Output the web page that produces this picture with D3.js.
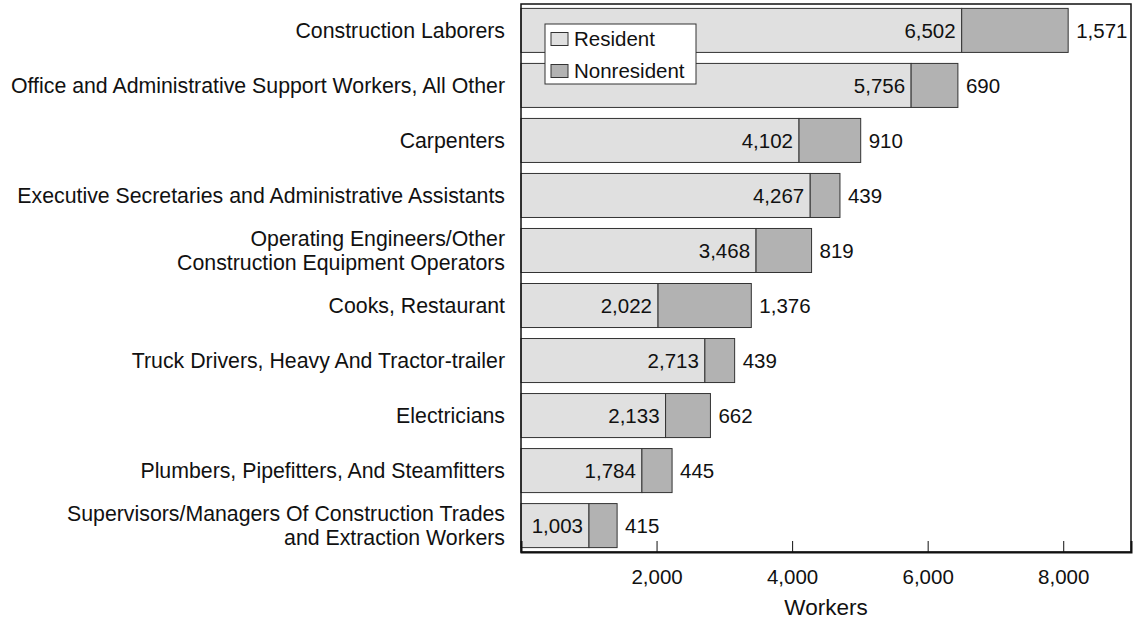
<!DOCTYPE html>
<html>
<head>
<meta charset="utf-8">
<script src="https://cdn.jsdelivr.net/npm/d3@7"></script>
<style>
  body { margin: 0; background: #fff; }
  svg { font-family: "Liberation Sans", Arial, sans-serif; }
</style>
</head>
<body>
<div id="chart"></div>
<script>
'use strict'

var occupations = [
  'Construction Laborers',
  'Office and Administrative Support Workers, All Other',
  'Carpenters',
  'Executive Secretaries and Administrative Assistants',
  'Operating Engineers/Other\nConstruction Equipment Operators',
  'Cooks, Restaurant',
  'Truck Drivers, Heavy And Tractor-trailer',
  'Electricians',
  'Plumbers, Pipefitters, And Steamfitters',
  'Supervisors/Managers Of Construction Trades\nand Extraction Workers'
];
var resident = [6502, 5756, 4102, 4267, 3468, 2022, 2713, 2133, 1784, 1003];
var nonresident = [1571, 690, 910, 439, 819, 1376, 439, 662, 445, 415];
var xTicks = [2000, 4000, 6000, 8000];
var seriesNames = ['Resident', 'Nonresident'];

(function() {
  var width = 1133, height = 621;
  var margin = { top: 4, right: 1, bottom: 68, left: 521 };
  var colors = { Resident: '#e0e0e0', Nonresident: '#b2b2b2' };
  var fmt = d3.format(',');
  var fontSize = 20.5;
  var labelSize = 21.3;
  var lineGap = 24.5;

  var rows = occupations.map(function(name, i) {
    return { name: name, res: resident[i], non: nonresident[i] };
  });

  var svg = d3.select('#chart').append('svg')
    .attr('width', width)
    .attr('height', height);

  var x = d3.scaleLinear()
    .domain([0, 9000])
    .range([margin.left, width - margin.right - 1]);

  var y = d3.scaleBand()
    .domain(occupations)
    .range([margin.top, height - margin.bottom - 1])
    .paddingInner(0.2)
    .paddingOuter(0.08);

  // bars
  var g = svg.append('g');
  var row = g.selectAll('g.row').data(rows).enter().append('g').attr('class', 'row');

  row.append('rect')
    .attr('x', x(0))
    .attr('y', function(d) { return y(d.name); })
    .attr('width', function(d) { return x(d.res) - x(0); })
    .attr('height', y.bandwidth())
    .attr('fill', colors.Resident)
    .attr('stroke', '#333')
    .attr('stroke-width', 1);

  row.append('rect')
    .attr('x', function(d) { return x(d.res); })
    .attr('y', function(d) { return y(d.name); })
    .attr('width', function(d) { return x(d.res + d.non) - x(d.res); })
    .attr('height', y.bandwidth())
    .attr('fill', colors.Nonresident)
    .attr('stroke', '#333')
    .attr('stroke-width', 1);

  row.append('text')
    .attr('x', function(d) { return x(d.res) - 6; })
    .attr('y', function(d) { return y(d.name) + y.bandwidth() / 2; })
    .attr('dy', '0.35em')
    .attr('text-anchor', 'end')
    .attr('font-size', fontSize)
    .attr('fill', '#111')
    .text(function(d) { return fmt(d.res); });

  row.append('text')
    .attr('x', function(d) { return x(d.res + d.non) + 8; })
    .attr('y', function(d) { return y(d.name) + y.bandwidth() / 2; })
    .attr('dy', '0.35em')
    .attr('font-size', fontSize)
    .attr('fill', '#111')
    .text(function(d) { return fmt(d.non); });

  // category labels, one text per line
  var labelG = svg.append('g');
  occupations.forEach(function(d) {
    var lines = d.split('\n');
    var cy = y(d) + y.bandwidth() / 2;
    lines.forEach(function(line, i) {
      labelG.append('text')
        .attr('x', margin.left - 16)
        .attr('y', cy + (i - (lines.length - 1) / 2) * lineGap)
        .attr('dy', '0.35em')
        .attr('text-anchor', 'end')
        .attr('font-size', labelSize)
        .attr('fill', '#111')
        .text(line);
    });
  });

  // frame
  svg.append('rect')
    .attr('x', margin.left)
    .attr('y', margin.top)
    .attr('width', width - margin.right - margin.left - 1)
    .attr('height', height - margin.bottom - margin.top - 1)
    .attr('fill', 'none')
    .attr('stroke', '#111')
    .attr('stroke-width', 1.5);

  // x axis
  var xAxis = d3.axisBottom(x).tickValues(xTicks).tickFormat(fmt).tickSize(-11).tickPadding(17);
  var axisG = svg.append('g')
    .attr('transform', 'translate(0,' + (height - margin.bottom - 1) + ')')
    .call(xAxis);
  axisG.select('.domain').attr('stroke', '#111').attr('stroke-width', 2);
  axisG.selectAll('.tick line').attr('stroke', '#111');
  axisG.selectAll('.tick text').attr('font-size', fontSize).attr('fill', '#111')
    .attr('font-family', '"Liberation Sans", Arial, sans-serif');

  svg.append('text')
    .attr('x', (x(0) + x(9000)) / 2)
    .attr('y', 615)
    .attr('text-anchor', 'middle')
    .attr('font-size', 22.5)
    .attr('fill', '#111')
    .text('Workers');

  // legend
  var legend = svg.append('g').attr('transform', 'translate(545,24)');
  legend.append('rect')
    .attr('width', 151)
    .attr('height', 60)
    .attr('fill', '#fff')
    .attr('stroke', '#333');
  var item = legend.selectAll('g.item').data(seriesNames).enter().append('g')
    .attr('class', 'item')
    .attr('transform', function(d, i) { return 'translate(6,' + (15 + i * 32) + ')'; });
  item.append('rect')
    .attr('x', 0).attr('y', -6.5)
    .attr('width', 17).attr('height', 13)
    .attr('fill', function(d) { return colors[d]; })
    .attr('stroke', '#333');
  item.append('text')
    .attr('x', 23)
    .attr('dy', '0.35em')
    .attr('font-size', fontSize)
    .attr('fill', '#111')
    .text(function(d) { return d; });
})();
</script>
</body>
</html>
